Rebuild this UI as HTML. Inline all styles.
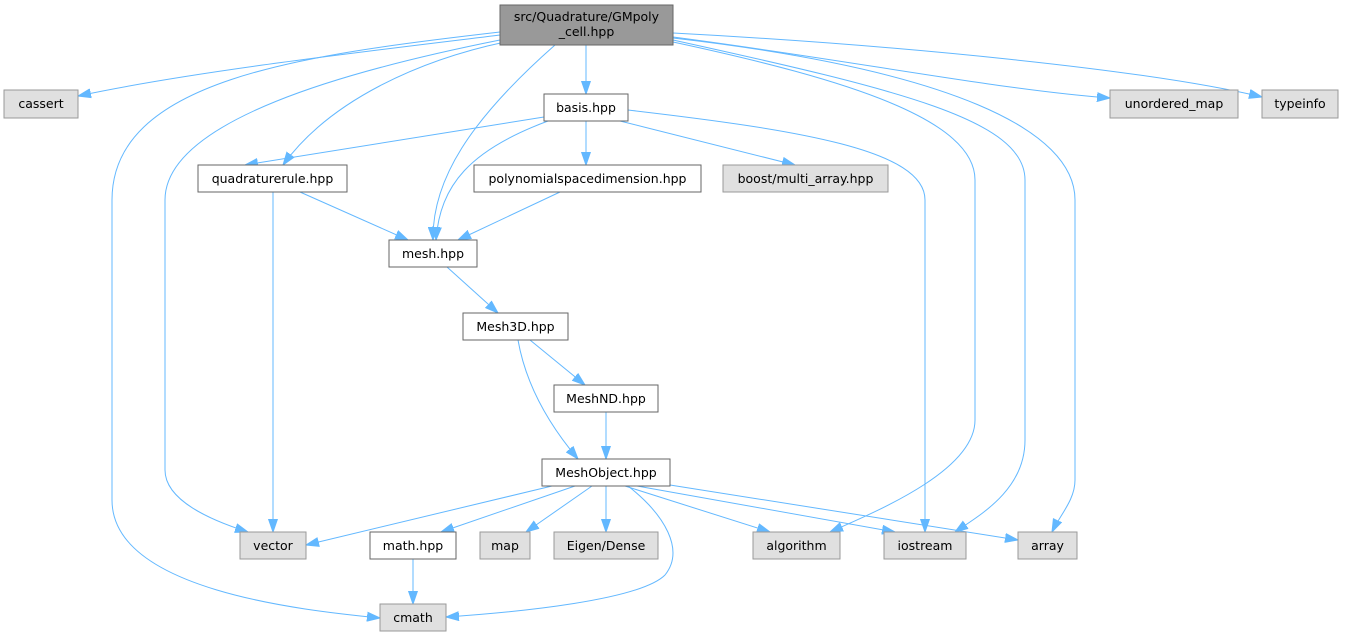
<!DOCTYPE html>
<html><head><meta charset="utf-8"><style>
html,body{margin:0;padding:0;background:#fff;}
svg{display:block;}
text{font-family:"DejaVu Sans","Liberation Sans",sans-serif;font-size:12.5px;fill:#000;text-anchor:middle;}
.w{fill:#fff;stroke:#666;stroke-width:1}
.g{fill:#e0e0e0;stroke:#999;stroke-width:1}
.e{fill:none;stroke:#63b8ff;stroke-width:1}
</style></head><body>
<svg width="1345" height="637" viewBox="0 0 1345 637" xmlns="http://www.w3.org/2000/svg">
<defs><marker id="a" markerUnits="userSpaceOnUse" markerWidth="14" markerHeight="10" refX="13" refY="5" orient="auto"><path d="M0,0.5 L13,5 L0,9.5 Z" fill="#63b8ff" stroke="#63b8ff"/></marker></defs>
<g marker-end="url(#a)">
<path class="e" d="M500,35 C380,50 200,70 78,96"/>
<path class="e" d="M673,37 C850,60 1000,90 1110,98"/>
<path class="e" d="M673,33 C900,45 1150,70 1262,97"/>
<path class="e" d="M586,45 L586,94"/>
<path class="e" d="M505,42 C420,60 330,100 283,165"/>
<path class="e" d="M555,45 C470,120 432,180 433,240"/>
<path class="e" d="M500,40 C350,70 165,120 165,200 L165,470 C165,500 210,520 248,532"/>
<path class="e" d="M500,32 C300,55 112,80 112,200 L112,500 C112,590 300,610 380,618"/>
<path class="e" d="M673,42 C850,80 975,120 975,180 L975,420 C975,470 880,510 830,532"/>
<path class="e" d="M673,40 C900,90 1025,120 1025,180 L1025,440 C1025,490 980,515 955,532"/>
<path class="e" d="M673,38 C950,70 1075,130 1075,200 L1075,480 C1075,500 1060,515 1052,532"/>
<path class="e" d="M544,117 L245,165"/>
<path class="e" d="M548,121 C470,150 440,185 436,240"/>
<path class="e" d="M586,121 L586,165"/>
<path class="e" d="M620,121 L795,165"/>
<path class="e" d="M628,110 C800,130 925,150 925,200 L925,532"/>
<path class="e" d="M273,192 L273,532"/>
<path class="e" d="M300,192 L408,240"/>
<path class="e" d="M560,192 L458,240"/>
<path class="e" d="M447,267 L498,313"/>
<path class="e" d="M530,340 L585,385"/>
<path class="e" d="M518,340 C525,380 545,420 578,459"/>
<path class="e" d="M606,412 L606,459"/>
<path class="e" d="M552,486 L306,545"/>
<path class="e" d="M575,486 L441,532"/>
<path class="e" d="M592,486 L526,532"/>
<path class="e" d="M606,486 L606,532"/>
<path class="e" d="M625,486 L770,532"/>
<path class="e" d="M637,486 L895,532"/>
<path class="e" d="M670,485 L1018,540"/>
<path class="e" d="M628,486 C665,515 685,550 665,575 C640,600 520,612 446,617"/>
<path class="e" d="M413,559 L413,604"/>
</g>
<rect x="500" y="5" width="173" height="40" fill="#999" stroke="#666"/>
<text x="586.5" y="21">src/Quadrature/GMpoly</text><text x="586.5" y="36">_cell.hpp</text>
<rect class="g" x="4" y="90" width="74" height="28"/><text x="41" y="108">cassert</text>
<rect class="w" x="544" y="94" width="84" height="27"/><text x="586" y="112">basis.hpp</text>
<rect class="g" x="1110" y="90" width="128" height="28"/><text x="1174" y="108">unordered_map</text>
<rect class="g" x="1262" y="90" width="76" height="28"/><text x="1300" y="108">typeinfo</text>
<rect class="w" x="198" y="165" width="149" height="27"/><text x="272.5" y="183">quadraturerule.hpp</text>
<rect class="w" x="474" y="165" width="227" height="27"/><text x="587.5" y="183">polynomialspacedimension.hpp</text>
<rect class="g" x="723" y="165" width="165" height="27"/><text x="805.5" y="183">boost/multi_array.hpp</text>
<rect class="w" x="389" y="240" width="88" height="27"/><text x="433" y="258">mesh.hpp</text>
<rect class="w" x="463" y="313" width="105" height="27"/><text x="515.5" y="331">Mesh3D.hpp</text>
<rect class="w" x="554" y="385" width="104" height="27"/><text x="606" y="403">MeshND.hpp</text>
<rect class="w" x="542" y="459" width="128" height="27"/><text x="606" y="477">MeshObject.hpp</text>
<rect class="g" x="240" y="532" width="66" height="27"/><text x="273" y="550">vector</text>
<rect class="w" x="370" y="532" width="86" height="27"/><text x="413" y="550">math.hpp</text>
<rect class="g" x="480" y="532" width="50" height="27"/><text x="505" y="550">map</text>
<rect class="g" x="554" y="532" width="104" height="27"/><text x="606" y="550">Eigen/Dense</text>
<rect class="g" x="753" y="532" width="87" height="27"/><text x="796.5" y="550">algorithm</text>
<rect class="g" x="884" y="532" width="82" height="27"/><text x="925" y="550">iostream</text>
<rect class="g" x="1018" y="532" width="59" height="27"/><text x="1047.5" y="550">array</text>
<rect class="g" x="380" y="604" width="66" height="27"/><text x="413" y="622">cmath</text>
</svg>
</body></html>
